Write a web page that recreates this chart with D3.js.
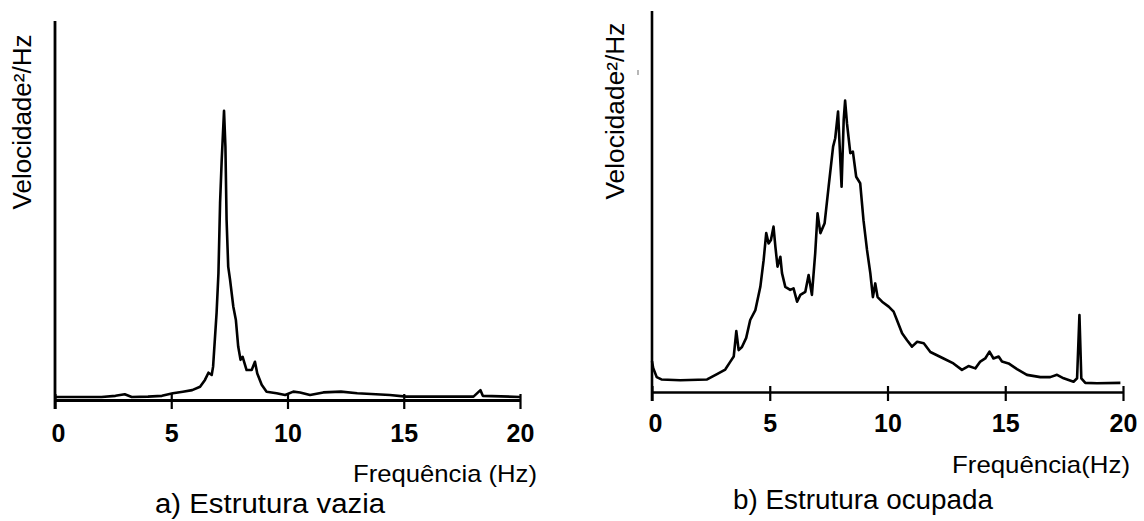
<!DOCTYPE html>
<html>
<head>
<meta charset="utf-8">
<script src="https://cdn.jsdelivr.net/npm/d3@7"></script>
<style>
  html, body { margin: 0; padding: 0; background: #fff; }
  svg { display: block; }
  text { font-family: "Liberation Sans", Arial, sans-serif; fill: #000; }
</style>
</head>
<body>
<svg id="chart" width="1144" height="521"></svg>
<script>
// ---------- data ----------
const xTicks = [0, 5, 10, 15, 20];
const yLabelText = "Velocidade²/Hz";
const xLabelTexts = ["Frequência (Hz)", "Frequência(Hz)"];
const captionTexts = ["a) Estrutura vazia", "b) Estrutura ocupada"];

// a) empty structure (arbitrary PSD units, 0 = axis, 100 = top of axis)
const emptyFreq = [0, 1, 2, 2.6, 3.0, 3.3, 4.0, 4.6, 5.07, 5.5, 5.9, 6.24, 6.45, 6.6, 6.74, 6.8, 6.95, 7.03, 7.1, 7.17, 7.27, 7.33, 7.38, 7.45, 7.53, 7.67, 7.78, 7.88, 7.98, 8.07, 8.24, 8.46, 8.6, 8.7, 8.89, 9.1, 9.53, 9.9, 10.25, 10.54, 10.97, 11.54, 12.3, 13.0, 14.4, 15.1, 18.0, 18.3, 18.4, 20];
const emptyPSD  = [0.8, 0.8, 0.8, 1.1, 1.5, 0.8, 0.9, 1.1, 1.8, 2.2, 2.6, 3.5, 5.3, 7.2, 6.6, 8.8, 23, 33.5, 52, 63.3, 76.3, 66.8, 47.5, 35.2, 31.7, 24.6, 21.1, 14.1, 10.6, 11.4, 7.9, 7.9, 10.1, 7.0, 4.0, 2.2, 1.8, 1.3, 2.2, 2.0, 1.3, 2.0, 2.2, 1.8, 1.3, 0.9, 0.9, 2.6, 1.1, 0.8];

// b) occupied structure
const occFreq = [0.0, 0.05, 0.2, 0.4, 1.2, 2.34, 2.76, 3.11, 3.32, 3.47, 3.58, 3.68, 3.82, 4.0, 4.17, 4.39, 4.6, 4.74, 4.85, 4.95, 5.05, 5.16, 5.24, 5.33, 5.45, 5.52, 5.66, 5.87, 6.01, 6.16, 6.3, 6.51, 6.65, 6.79, 6.93, 7.03, 7.15, 7.33, 7.5, 7.69, 7.78, 7.9, 7.97, 8.05, 8.14, 8.2, 8.28, 8.42, 8.53, 8.67, 8.84, 8.98, 9.13, 9.27, 9.38, 9.48, 9.58, 9.77, 10.05, 10.26, 10.4, 10.62, 10.83, 11.04, 11.26, 11.54, 11.82, 12.38, 12.8, 13.16, 13.44, 13.73, 13.94, 14.15, 14.33, 14.5, 14.72, 14.86, 15.14, 15.5, 15.92, 16.49, 16.91, 17.2, 17.48, 17.9, 18.05, 18.15, 18.23, 18.4, 18.9, 19.89];
const occPSD  = [8.1, 6.3, 3.9, 3.3, 3.1, 3.3, 4.7, 5.9, 7.9, 9.3, 16.0, 11.0, 11.8, 14.2, 18.9, 21.5, 27.6, 34.6, 41.7, 39.0, 39.9, 43.4, 38.1, 32.9, 35.5, 31.2, 27.6, 26.8, 27.2, 23.7, 25.5, 26.3, 30.7, 25.5, 36.4, 46.9, 41.7, 44.3, 53.9, 64.4, 66.6, 73.6, 64.4, 53.9, 71.4, 76.5, 70.5, 62.7, 63.1, 56.5, 54.8, 45.1, 37.3, 31.2, 24.9, 28.5, 24.9, 23.7, 22.4, 21.1, 18.9, 15.4, 13.6, 11.9, 13.2, 12.8, 10.5, 8.8, 7.5, 5.8, 6.8, 6.2, 8.0, 8.8, 10.6, 8.8, 9.3, 8.0, 7.5, 6.0, 4.5, 3.9, 3.9, 4.5, 3.6, 2.7, 3.6, 20.2, 3.6, 2.4, 2.3, 2.4];

// ---------- layout ----------
const svg = d3.select("#chart");
svg.append("rect").attr("width", 1144).attr("height", 521).attr("fill", "#fff");

const panels = [
  { freq: emptyFreq, psd: emptyPSD, x0: 55, x1: 520, yTop: 21, yBase: 400,
    yLab: { x: 31, y: 122, len: 175 },
    tickBaseline: 442,
    xLab: { x: 537, y: 482, len: 184 },
    cap: { x: 155, y: 513, len: 230 },
    axisW: 3, yAxisW: 2.8, xLabel: xLabelTexts[0], caption: captionTexts[0] },
  { freq: occFreq, psd: occPSD, x0: 652, x1: 1123, yTop: 11, yBase: 392,
    yLab: { x: 624, y: 111, len: 177 },
    tickBaseline: 432,
    xLab: { x: 1130, y: 473, len: 178 },
    cap: { x: 733, y: 509, len: 260 },
    axisW: 2.4, yAxisW: 2.6, xLabel: xLabelTexts[1], caption: captionTexts[1] }
];

panels.forEach(p => {
  const g = svg.append("g");
  const x = d3.scaleLinear().domain([0, 20]).range([p.x0, p.x1]);
  const y = d3.scaleLinear().domain([0, 100]).range([p.yBase, p.yTop]);

  // y axis (plain line, no ticks)
  g.append("line")
    .attr("x1", x(0)).attr("x2", x(0))
    .attr("y1", y(100)).attr("y2", p.yBase + 9)
    .attr("stroke", "#000").attr("stroke-width", p.yAxisW);

  // x axis
  const axis = d3.axisBottom(x).tickValues(xTicks).tickSizeInner(9).tickSizeOuter(0)
    .tickFormat(d3.format("d"));
  const ax = g.append("g").attr("transform", `translate(0,${p.yBase})`).call(axis);
  ax.select(".domain").attr("stroke", "#000").attr("stroke-width", p.axisW);
  ax.selectAll(".tick line").attr("y1", -6).attr("y2", 9)
    .attr("stroke", "#000").attr("stroke-width", 2.2);
  ax.selectAll(".tick text")
    .attr("y", p.tickBaseline - p.yBase).attr("dy", null)
    .attr("dx", d => d === 0 ? 3 : 0)
    .style("font-family", "'Liberation Sans', Arial, sans-serif")
    .style("font-weight", "bold")
    .style("font-size", "25px")
    .attr("fill", "#000");

  // curve
  const pts = p.freq.map((f, i) => [f, p.psd[i]]);
  g.append("path")
    .datum(pts)
    .attr("fill", "none")
    .attr("stroke", "#000")
    .attr("stroke-width", 2.6)
    .attr("stroke-linejoin", "round")
    .attr("d", d3.line().x(d => x(d[0])).y(d => y(d[1])));

  // y label
  g.append("text")
    .attr("transform", `translate(${p.yLab.x},${p.yLab.y}) rotate(-90)`)
    .attr("text-anchor", "middle")
    .attr("textLength", p.yLab.len)
    .attr("lengthAdjust", "spacingAndGlyphs")
    .style("font-size", "25px")
    .text(yLabelText);

  // x label
  g.append("text")
    .attr("x", p.xLab.x - p.xLab.len).attr("y", p.xLab.y)
    .attr("textLength", p.xLab.len)
    .attr("lengthAdjust", "spacingAndGlyphs")
    .style("font-size", "24px")
    .text(p.xLabel);

  // caption
  g.append("text")
    .attr("x", p.cap.x).attr("y", p.cap.y)
    .attr("textLength", p.cap.len)
    .attr("lengthAdjust", "spacingAndGlyphs")
    .style("font-size", "27px")
    .text(p.caption);
});

// small stray mark near right y label
svg.append("line").attr("x1", 638).attr("x2", 638).attr("y1", 70).attr("y2", 75)
  .attr("stroke", "#888").attr("stroke-width", 1.2);
</script>
</body>
</html>
